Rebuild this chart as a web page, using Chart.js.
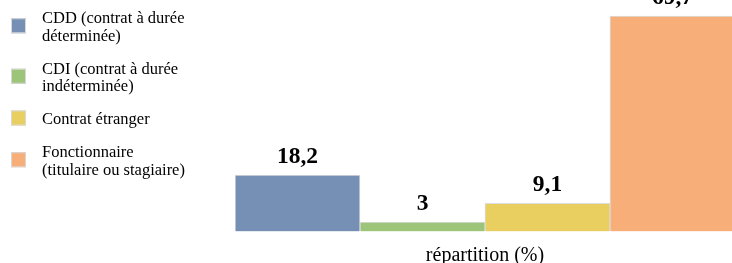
<!DOCTYPE html>
<html>
<head>
<meta charset="utf-8">
<script src="https://cdn.jsdelivr.net/npm/chart.js@4"></script>
<style>
  html, body { margin: 0; padding: 0; overflow: hidden; background: #fff; }
  canvas { display: block; }
</style>
</head>
<body>
<canvas id="myChart" width="735" height="270"></canvas>
<script>
// data
var category = ['répartition (%)'];
var series_labels = [
    ['CDD (contrat à durée', 'déterminée)'],
    ['CDI (contrat à durée', 'indéterminée)'],
    ['Contrat étranger'],
    ['Fonctionnaire', '(titulaire ou stagiaire)']
];
var series_values = [18.2, 3, 9.1, 69.7];
var value_texts = ['18,2', '3', '9,1', '69,7'];
var colors = ['#7590b4', '#9cc57a', '#e9cf60', '#f7ae79'];

var datasets = [];
for (var i = 0; i < series_values.length; i++) {
    datasets.push({
        label: series_labels[i],
        data: [series_values[i]],
        backgroundColor: colors[i],
        borderColor: '#dcdcdc',
        borderWidth: 1,
        barPercentage: 1,
        categoryPercentage: 1
    });
}

// legend on the left, multi-line labels
var leftLegend = {
    id: 'leftLegend',
    afterDraw: function(chart) {
        var ctx = chart.ctx;
        var lh = 17.5;
        var y = 23;
        ctx.save();
        ctx.font = '16.5px "Liberation Serif", "Times New Roman", serif';
        ctx.textBaseline = 'alphabetic';
        ctx.textAlign = 'left';
        chart.data.datasets.forEach(function(ds) {
            var lines = ds.label;
            var sq = y + (lines.length - 1) * lh / 2 - 6;
            ctx.fillStyle = ds.backgroundColor;
            ctx.fillRect(11, sq - 7.5, 15, 15);
            ctx.strokeStyle = '#d8d8d8';
            ctx.lineWidth = 1;
            ctx.strokeRect(11.5, sq - 7, 14, 14);
            ctx.fillStyle = '#000';
            for (var k = 0; k < lines.length; k++) {
                ctx.fillText(lines[k], 42, y + k * lh);
            }
            y = y + (lines.length - 1) * lh + 33;
        });
        ctx.restore();
    }
};

// value above each bar
var valueLabels = {
    id: 'valueLabels',
    afterDatasetsDraw: function(chart) {
        var ctx = chart.ctx;
        ctx.save();
        ctx.font = 'bold 23.5px "Liberation Serif", "Times New Roman", serif';
        ctx.textAlign = 'center';
        ctx.textBaseline = 'alphabetic';
        ctx.fillStyle = '#000';
        chart.data.datasets.forEach(function(ds, i) {
            var bar = chart.getDatasetMeta(i).data[0];
            ctx.fillText(value_texts[i], bar.x, bar.y - 12);
        });
        ctx.restore();
    }
};

var ctx = document.getElementById('myChart').getContext('2d');
var myChart = new Chart(ctx, {
    type: 'bar',
    data: {
        labels: category,
        datasets: datasets
    },
    options: {
        responsive: false,
        animation: false,
        layout: {
            padding: { left: 235, right: 0, top: 9, bottom: 0 }
        },
        plugins: {
            legend: { display: false },
            tooltip: { enabled: false }
        },
        scales: {
            x: {
                grid: { display: false },
                border: { display: false },
                ticks: { display: false },
                title: {
                    display: true,
                    text: category[0],
                    color: '#000',
                    font: { family: '"Liberation Serif", "Times New Roman", serif', size: 20 },
                    padding: { top: 4.3, bottom: 2.3 }
                }
            },
            y: {
                display: false,
                min: 0,
                max: 72
            }
        }
    },
    plugins: [leftLegend, valueLabels]
});
</script>
</body>
</html>
